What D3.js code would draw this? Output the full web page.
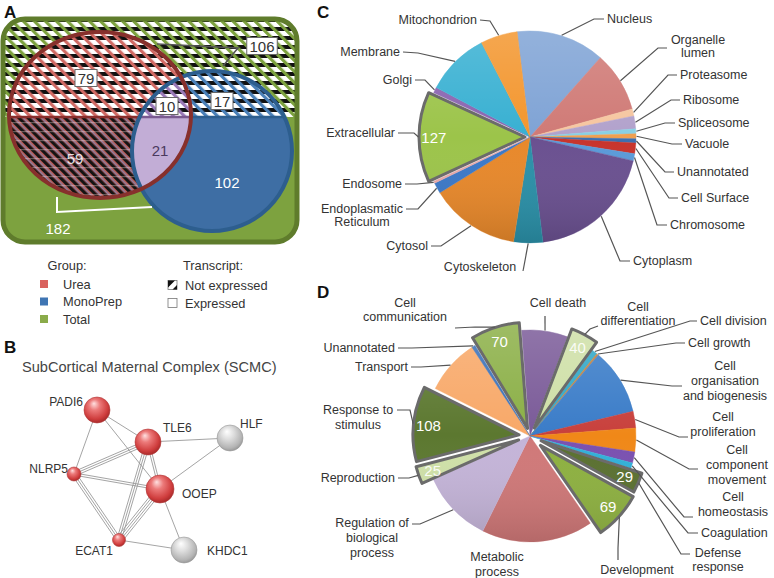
<!DOCTYPE html>
<html><head><meta charset="utf-8">
<script src="https://cdn.jsdelivr.net/npm/d3@7"></script>
<style>body{margin:0;background:#fff;} svg{display:block;font-family:"Liberation Sans",Arial,Helvetica,sans-serif;}</style>
</head><body>
<svg id="c" width="774" height="578"></svg>
<script>
// ---------------- DATA ----------------
const groupNames = ["Urea", "MonoPrep", "Total"];
const transcriptStates = ["Not expressed", "Expressed"];
const vennRegions = ["urea_ne", "both_ne", "mono_ne", "total_ne", "urea_e", "both_e", "mono_e", "total_e"];
const vennCounts = [79, 10, 17, 106, 59, 21, 102, 182];

const networkTitle = "SubCortical Maternal Complex (SCMC)";
const proteins = ["PADI6", "TLE6", "HLF", "NLRP5", "OOEP", "ECAT1", "KHDC1"];
const proteinInComplex = [true, true, false, true, true, true, false];
const linkSource = ["PADI6", "PADI6", "PADI6", "TLE6", "TLE6", "TLE6", "TLE6", "NLRP5", "NLRP5", "OOEP", "HLF", "OOEP", "ECAT1"];
const linkTarget = ["TLE6", "NLRP5", "OOEP", "HLF", "NLRP5", "OOEP", "ECAT1", "OOEP", "ECAT1", "ECAT1", "OOEP", "KHDC1", "KHDC1"];
const linkEvidence = [1, 1, 1, 1, 3, 2, 3, 2, 3, 4, 1, 1, 1];

const compartments = ["Nucleus", "Organelle lumen", "Proteasome", "Ribosome", "Spliceosome", "Vacuole", "Unannotated", "Cell Surface", "Chromosome", "Cytoplasm", "Cytoskeleton", "Cytosol", "Endoplasmatic Reticulum", "Endosome", "Extracellular", "Golgi", "Membrane", "Mitochondrion"];
const compartmentCounts = [125, 85, 10, 18, 7, 7, 6, 15, 10, 180, 41, 127, 15, 3, 127, 8, 90, 52];
const compartmentHighlight = ["Extracellular"];

const processes = ["Cell death", "Cell differentiation", "Cell division", "Cell growth", "Cell organisation and biogenesis", "Cell proliferation", "Cell component movement", "Cell homeostasis", "Coagulation", "Defense response", "Development", "Metabolic process", "Regulation of biological process", "Reproduction", "Response to stimulus", "Transport", "Unannotated", "Cell communication"];
const processCounts = [66, 40, 8, 3, 95, 24, 34, 16, 8, 29, 69, 160, 103, 25, 108, 79, 5, 70];
const processHighlight = ["Cell differentiation", "Defense response", "Development", "Reproduction", "Response to stimulus", "Cell communication"];

// ---------------- STYLE / LAYOUT ----------------
const compartmentColors = ["#7fa3d5", "#d07a76", "#f6c6a0", "#b2a2cc", "#88d0e4", "#f0a050", "#3c6fb0", "#c8342c", "#5a9ad8", "#6a5090", "#2a90a8", "#e8882a", "#3a78c8", "#e8a8a8", "#9cc44a", "#8a64b0", "#38b0d2", "#f3962e"];
const processColors = ["#7a5a98", "#cfe0a8", "#30a8c8", "#c08040", "#3a7cc8", "#c8403c", "#f08818", "#7a50b0", "#30b0d8", "#5a7030", "#8db040", "#d07878", "#c4b4d8", "#cfe0a8", "#5c7830", "#f8a868", "#3a70b8", "#8cb048"];

const cLayout = {
  "Nucleus": {a: "start", x: 607, y: [23], lead: [[604, 19], [594, 19]]},
  "Organelle lumen": {a: "middle", x: 698, y: [44, 57], lines: ["Organelle", "lumen"], lead: [[667, 48], [658, 48]]},
  "Proteasome": {a: "start", x: 680, y: [79], lead: [[677, 75], [668, 75]]},
  "Ribosome": {a: "start", x: 683, y: [104], lead: [[680, 100], [671, 100]]},
  "Spliceosome": {a: "start", x: 678, y: [127], lead: [[675, 123], [665, 123]]},
  "Vacuole": {a: "start", x: 685, y: [148], lead: [[682, 144], [672, 144]]},
  "Unannotated": {a: "start", x: 677, y: [176], lead: [[674, 172], [665, 172]]},
  "Cell Surface": {a: "start", x: 681, y: [202], lead: [[678, 198], [669, 198]]},
  "Chromosome": {a: "start", x: 670, y: [229], lead: [[667, 225], [657, 225]]},
  "Cytoplasm": {a: "start", x: 633, y: [265], lead: [[630, 261], [620, 261]]},
  "Cytoskeleton": {a: "middle", x: 480, y: [271], lead: [[523, 271]]},
  "Cytosol": {a: "end", x: 428, y: [250], lead: [[431, 246], [441, 246]]},
  "Endoplasmatic Reticulum": {a: "middle", x: 362, y: [213, 226], lines: ["Endoplasmatic", "Reticulum"], lead: [[406, 209], [418, 209]]},
  "Endosome": {a: "end", x: 402, y: [188], lead: [[405, 184], [417, 184]]},
  "Extracellular": {a: "end", x: 395, y: [137], lead: [[398, 133], [414, 133]]},
  "Golgi": {a: "end", x: 412, y: [84], lead: [[415, 80], [425, 80]]},
  "Membrane": {a: "end", x: 400, y: [56], lead: [[403, 52], [418, 53]]},
  "Mitochondrion": {a: "end", x: 477, y: [24], lead: [[480, 20], [490, 21]]}
};
const dLayout = {
  "Cell death": {a: "middle", x: 558, y: [307], lead: [[545, 316]]},
  "Cell differentiation": {a: "middle", x: 638, y: [311, 325], lines: ["Cell", "differentiation"], lead: [[598, 326], [590, 329]]},
  "Cell division": {a: "start", x: 700, y: [325], lead: [[697, 321], [690, 321]]},
  "Cell growth": {a: "start", x: 688, y: [347], lead: [[685, 343], [676, 343]]},
  "Cell organisation and biogenesis": {a: "middle", x: 725, y: [370, 385, 400], lines: ["Cell", "organisation", "and biogenesis"], lead: [[682, 386], [672, 386]]},
  "Cell proliferation": {a: "middle", x: 723, y: [421, 436], lines: ["Cell", "proliferation"], lead: [[688, 437], [679, 437]]},
  "Cell component movement": {a: "middle", x: 737, y: [454, 469, 484], lines: ["Cell", "component", "movement"], lead: [[698, 469], [689, 469]]},
  "Cell homeostasis": {a: "middle", x: 733, y: [501, 516], lines: ["Cell", "homeostasis"], lead: [[693, 517], [684, 517]]},
  "Coagulation": {a: "start", x: 701, y: [537], lead: [[698, 533], [688, 533]]},
  "Defense response": {a: "middle", x: 718, y: [557, 571], lines: ["Defense", "response"], lead: [[690, 554], [681, 554]]},
  "Development": {a: "middle", x: 637, y: [574], lead: [[618, 560], [618, 548]]},
  "Metabolic process": {a: "middle", x: 497, y: [561, 576], lines: ["Metabolic", "process"], lead: null},
  "Regulation of biological process": {a: "middle", x: 372, y: [527, 542, 557], lines: ["Regulation of", "biological", "process"], lead: [[412, 524], [420, 524]]},
  "Reproduction": {a: "end", x: 395, y: [482], lead: [[398, 478], [409, 478]]},
  "Response to stimulus": {a: "middle", x: 358, y: [414, 429], lines: ["Response to", "stimulus"], lead: [[397, 410], [410, 410]]},
  "Transport": {a: "end", x: 408, y: [371], lead: [[411, 367], [421, 367]]},
  "Unannotated": {a: "end", x: 395, y: [352], lead: [[398, 348], [412, 348]]},
  "Cell communication": {a: "middle", x: 405, y: [307, 321], lines: ["Cell", "communication"], lead: [[455, 328], [475, 327]]}
};
const cExplode = {"Extracellular": 5};
const dExplode = {"Cell communication": 8, "Cell differentiation": 9, "Defense response": 12, "Development": 14, "Reproduction": 12, "Response to stimulus": 11};

const svg = d3.select("#c");
const defs = svg.append("defs");

// ---------------- PANEL LETTERS ----------------
[["A", 4, 18], ["B", 4, 353], ["C", 317, 18], ["D", 317, 298]].forEach(([t, x, y]) => {
  svg.append("text").attr("x", x).attr("y", y).text(t)
    .attr("font-size", 17).attr("font-weight", "bold").attr("fill", "#111");
});

// ---------------- PANEL A : VENN ----------------
function stripes(id, color, w, period) {
  const p = defs.append("pattern").attr("id", id).attr("patternUnits", "userSpaceOnUse")
    .attr("width", period).attr("height", period).attr("patternTransform", "rotate(-45)");
  p.append("rect").attr("width", w).attr("height", period).attr("fill", color);
}
const bands = defs.append("pattern").attr("id", "bands").attr("patternUnits", "userSpaceOnUse")
  .attr("width", 10).attr("height", 9);
bands.append("rect").attr("width", 10).attr("height", 4).attr("fill", "#111");
stripes("stG", "#7da23f", 3.2, 7.8);
stripes("stR", "#d06a64", 3.2, 7.8);
stripes("stB", "#4a80b8", 3.2, 7.8);
stripes("stP", "#9a7ab8", 3.2, 7.8);
// dense pattern for the 59 region
const p59 = defs.append("pattern").attr("id", "p59").attr("patternUnits", "userSpaceOnUse")
  .attr("width", 6.5).attr("height", 6.5).attr("patternTransform", "rotate(-45)");
p59.append("rect").attr("width", 6.5).attr("height", 6.5).attr("fill", "#b8574f");
p59.append("rect").attr("width", 3.2).attr("height", 6.5).attr("fill", "#141414");
p59.append("rect").attr("x", 4).attr("width", 1).attr("height", 6.5).attr("fill", "#7f8fc4");
const bandsSoft = defs.append("pattern").attr("id", "bandsSoft").attr("patternUnits", "userSpaceOnUse")
  .attr("width", 10).attr("height", 9);
bandsSoft.append("rect").attr("y", 5).attr("width", 10).attr("height", 1.2).attr("fill", "rgba(255,220,220,0.35)");

const splitY = 117;
const RR = {x: 3, y: 19, w: 294, h: 223, r: 22};
const RED = {cx: 100, cy: 115, rx: 91, ry: 83};
const BLUE = {cx: 212, cy: 151, r: 80};

function clip(id, fn) { const c = defs.append("clipPath").attr("id", id); fn(c); }
clip("cRR", c => c.append("rect").attr("x", RR.x).attr("y", RR.y).attr("width", RR.w).attr("height", RR.h).attr("rx", RR.r));
clip("cTop", c => c.append("rect").attr("x", 0).attr("y", 0).attr("width", 310).attr("height", splitY));
clip("cBot", c => c.append("rect").attr("x", 0).attr("y", splitY).attr("width", 310).attr("height", 200));
clip("cRed", c => c.append("ellipse").attr("cx", RED.cx).attr("cy", RED.cy).attr("rx", RED.rx).attr("ry", RED.ry));
clip("cBlue", c => c.append("circle").attr("cx", BLUE.cx).attr("cy", BLUE.cy).attr("r", BLUE.r));

function full(g, fill) {
  return g.append("rect").attr("x", 0).attr("y", 0).attr("width", 310).attr("height", 270).attr("fill", fill);
}
function hatch(g, stripeId) {
  full(g, "#fff"); full(g, "url(#bands)"); full(g, `url(#${stripeId})`);
}
const venn = svg.append("g");
const gRR = venn.append("g").attr("clip-path", "url(#cRR)");
full(gRR, "#7da23f");
hatch(gRR.append("g").attr("clip-path", "url(#cTop)"), "stG");

const gRed = gRR.append("g").attr("clip-path", "url(#cRed)");
hatch(gRed.append("g").attr("clip-path", "url(#cTop)"), "stR");
const redBot = gRed.append("g").attr("clip-path", "url(#cBot)");
full(redBot, "url(#p59)"); full(redBot, "url(#bandsSoft)");

const gBlue = gRR.append("g").attr("clip-path", "url(#cBlue)");
hatch(gBlue.append("g").attr("clip-path", "url(#cTop)"), "stB");
full(gBlue.append("g").attr("clip-path", "url(#cBot)"), "#3e6ea4");

const gInt = gRR.append("g").attr("clip-path", "url(#cRed)").append("g").attr("clip-path", "url(#cBlue)");
hatch(gInt.append("g").attr("clip-path", "url(#cTop)"), "stP");
full(gInt.append("g").attr("clip-path", "url(#cBot)"), "#c2add6");

// split lines
gRed.append("line").attr("x1", 0).attr("x2", 310).attr("y1", splitY).attr("y2", splitY).attr("stroke", "#8a2e2c").attr("stroke-width", 2.5);
gBlue.append("line").attr("x1", 0).attr("x2", 310).attr("y1", splitY).attr("y2", splitY).attr("stroke", "#2d5e8e").attr("stroke-width", 2.5);
gInt.append("line").attr("x1", 0).attr("x2", 310).attr("y1", splitY).attr("y2", splitY).attr("stroke", "#7a5a90").attr("stroke-width", 2.5);

// outlines
venn.append("circle").attr("cx", BLUE.cx).attr("cy", BLUE.cy).attr("r", BLUE.r)
  .attr("fill", "none").attr("stroke", "#2d5e8e").attr("stroke-width", 4);
venn.append("ellipse").attr("cx", RED.cx).attr("cy", RED.cy).attr("rx", RED.rx).attr("ry", RED.ry)
  .attr("fill", "none").attr("stroke", "#87302c").attr("stroke-width", 4);
venn.append("rect").attr("x", RR.x).attr("y", RR.y).attr("width", RR.w).attr("height", RR.h).attr("rx", RR.r)
  .attr("fill", "none").attr("stroke", "#5f7c2c").attr("stroke-width", 5);

// leader to 106 and bracket to 182
venn.append("polyline").attr("points", "157,44 238,48 223,66").attr("fill", "none").attr("stroke", "#555").attr("stroke-width", 1.6);
venn.append("polyline").attr("points", "57,197 57,212 152,207").attr("fill", "none").attr("stroke", "#fff").attr("stroke-width", 2);

// Venn labels
const vennLabelPos = {
  urea_ne: {x: 86, y: 78, box: true}, both_ne: {x: 167, y: 106, box: true},
  mono_ne: {x: 222, y: 101, box: true}, total_ne: {x: 262, y: 46, box: true},
  urea_e: {x: 75, y: 158, fill: "rgba(255,255,255,0.85)"}, both_e: {x: 160, y: 150, fill: "#4a3a5e"},
  mono_e: {x: 227, y: 182, fill: "#fff"}, total_e: {x: 58, y: 228, fill: "#fff"}
};
vennRegions.forEach((reg, i) => {
  const p = vennLabelPos[reg];
  const txt = String(vennCounts[i]);
  if (p.box) {
    const w = txt.length * 8.5 + 5;
    venn.append("rect").attr("x", p.x - w / 2).attr("y", p.y - 8.5).attr("width", w).attr("height", 17)
      .attr("fill", "#fff").attr("stroke", "#666").attr("stroke-width", 1);
  }
  venn.append("text").attr("x", p.x).attr("y", p.y + 5.5).attr("text-anchor", "middle")
    .attr("font-size", 15).attr("fill", p.box ? "#333" : p.fill).text(txt);
});

// Legend
const legend = svg.append("g").attr("font-size", 12.8).attr("fill", "#333");
legend.append("text").attr("x", 67).attr("y", 270).attr("text-anchor", "middle").text("Group:");
legend.append("text").attr("x", 213).attr("y", 270).attr("text-anchor", "middle").text("Transcript:");
const legendColors = ["#d9625e", "#3f75b3", "#8aab4a"];
groupNames.forEach((g, i) => {
  const y = 284 + i * 17.5;
  legend.append("rect").attr("x", 40).attr("y", y - 4).attr("width", 8).attr("height", 8).attr("fill", legendColors[i]);
  legend.append("text").attr("x", 63).attr("y", y + 4.5).text(g);
});
transcriptStates.forEach((t, i) => {
  const y = 285 + i * 18;
  const x = 168;
  legend.append("rect").attr("x", x).attr("y", y - 4.5).attr("width", 9).attr("height", 9).attr("fill", "#fff").attr("stroke", "#777").attr("stroke-width", 0.8);
  if (i === 0) {
    legend.append("path").attr("d", `M${x},${y - 4.5}h7l-7,7z M${x + 9},${y}v4.5h-4.5z`).attr("fill", "#111");
  }
  legend.append("text").attr("x", 185).attr("y", y + 4.5).text(t);
});

// ---------------- PANEL B : NETWORK ----------------
const netPos = {
  PADI6: {x: 97, y: 410, r: 13, lx: 83, ly: 406, a: "end"},
  TLE6: {x: 148, y: 442, r: 13, lx: 163, ly: 432, a: "start"},
  HLF: {x: 230, y: 438, r: 13, lx: 240, ly: 428, a: "start"},
  NLRP5: {x: 74, y: 474, r: 7, lx: 68, ly: 473, a: "end"},
  OOEP: {x: 160, y: 489, r: 14, lx: 182, ly: 498, a: "start"},
  ECAT1: {x: 119, y: 540, r: 6.5, lx: 113, ly: 555, a: "end"},
  KHDC1: {x: 184, y: 550, r: 13, lx: 207, ly: 555, a: "start"}
};
svg.append("text").attr("x", 22).attr("y", 372).attr("font-size", 14.6).attr("fill", "#444").text(networkTitle);

const rg = defs.append("radialGradient").attr("id", "sphRed").attr("cx", "45%").attr("cy", "40%").attr("r", "60%").attr("fx", "38%").attr("fy", "25%");
rg.append("stop").attr("offset", "0%").attr("stop-color", "#ffe0e0");
rg.append("stop").attr("offset", "35%").attr("stop-color", "#ec7a7a");
rg.append("stop").attr("offset", "80%").attr("stop-color", "#cf3d3d");
rg.append("stop").attr("offset", "100%").attr("stop-color", "#a82a2a");
const gg = defs.append("radialGradient").attr("id", "sphGray").attr("cx", "45%").attr("cy", "40%").attr("r", "60%").attr("fx", "38%").attr("fy", "25%");
gg.append("stop").attr("offset", "0%").attr("stop-color", "#ffffff");
gg.append("stop").attr("offset", "40%").attr("stop-color", "#dedede");
gg.append("stop").attr("offset", "85%").attr("stop-color", "#b4b4b4");
gg.append("stop").attr("offset", "100%").attr("stop-color", "#9a9a9a");

const net = svg.append("g");
linkSource.forEach((s, i) => {
  const a = netPos[s], b = netPos[linkTarget[i]], n = linkEvidence[i];
  const dx = b.x - a.x, dy = b.y - a.y, L = Math.hypot(dx, dy);
  const nx = -dy / L, ny = dx / L;
  for (let k = 0; k < n; k++) {
    const o = (k - (n - 1) / 2) * 2.2;
    net.append("line").attr("x1", a.x + nx * o).attr("y1", a.y + ny * o)
      .attr("x2", b.x + nx * o).attr("y2", b.y + ny * o)
      .attr("stroke", "#9a9a9a").attr("stroke-width", 0.9);
  }
});
proteins.forEach((p, i) => {
  const q = netPos[p];
  net.append("circle").attr("cx", q.x).attr("cy", q.y).attr("r", q.r)
    .attr("fill", proteinInComplex[i] ? "url(#sphRed)" : "url(#sphGray)")
    .attr("stroke", proteinInComplex[i] ? "#b23a3a" : "#999").attr("stroke-width", 0.6);
  net.append("text").attr("x", q.lx).attr("y", q.ly).attr("text-anchor", q.a)
    .attr("font-size", 12).attr("fill", "#333").text(p);
});

// ---------------- PIE PANELS ----------------
function drawPie(opts) {
  const {cats, vals, colors, startDeg, cx, cy, r, explode, layout, highlight, gid} = opts;
  const sh = defs.append("linearGradient").attr("id", gid).attr("gradientUnits", "userSpaceOnUse")
    .attr("x1", 0).attr("y1", -r).attr("x2", 0).attr("y2", r);
  sh.append("stop").attr("offset", "0%").attr("stop-color", "#fff").attr("stop-opacity", 0.16);
  sh.append("stop").attr("offset", "50%").attr("stop-color", "#fff").attr("stop-opacity", 0);
  sh.append("stop").attr("offset", "100%").attr("stop-color", "#000").attr("stop-opacity", 0.13);

  const s0 = startDeg * Math.PI / 180;
  const pie = d3.pie().sort(null).value(d => d.v).startAngle(s0).endAngle(s0 + 2 * Math.PI);
  const data = pie(cats.map((c, i) => ({c, v: vals[i], col: colors[i]})));
  const arc = d3.arc().innerRadius(0).outerRadius(r);
  const g = svg.append("g").attr("transform", `translate(${cx},${cy})`);
  const off = d => explode[d.data.c] || 0;
  const mid = d => (d.startAngle + d.endAngle) / 2;
  const shift = d => [Math.sin(mid(d)) * off(d), -Math.cos(mid(d)) * off(d)];

  const ordered = data.filter(d => !off(d)).concat(data.filter(d => off(d)));
  ordered.forEach(d => {
    const [ox, oy] = shift(d);
    const sg = g.append("g").attr("transform", `translate(${ox},${oy})`);
    sg.append("path").attr("d", arc(d)).attr("fill", d.data.col).attr("stroke", d.data.col).attr("stroke-width", 0.4);
    sg.append("path").attr("d", arc(d)).attr("fill", `url(#${gid})`);
    if (off(d)) {
      sg.append("path").attr("d", arc(d)).attr("fill", "none").attr("stroke", "#6b6b6b")
        .attr("stroke-width", 3).attr("stroke-linejoin", "round");
    }
    if (highlight.includes(d.data.c)) {
      const rr = r * 0.86;
      sg.append("text").attr("x", Math.sin(mid(d)) * rr).attr("y", -Math.cos(mid(d)) * rr + 5.5)
        .attr("text-anchor", "middle").attr("font-size", 15).attr("fill", "#fff")
        .attr("fill-opacity", d.data.col === "#cfe0a8" ? 0.9 : 1).text(d.data.v);
    }
  });

  data.forEach(d => {
    const L = layout[d.data.c];
    if (!L) return;
    const lines = L.lines || [d.data.c];
    lines.forEach((t, k) => {
      svg.append("text").attr("x", L.x).attr("y", L.y[k]).attr("text-anchor", L.a)
        .attr("font-size", 12.5).attr("fill", "#333").text(t);
    });
    if (L.lead) {
      const [ox, oy] = shift(d);
      const end = [cx + ox + Math.sin(mid(d)) * (r + 0.5), cy + oy - Math.cos(mid(d)) * (r + 0.5)];
      const pts = L.lead.concat([end]);
      svg.append("polyline").attr("points", pts.map(p => p.join(",")).join(" "))
        .attr("fill", "none").attr("stroke", "#555").attr("stroke-width", 1.2);
    }
  });
}

drawPie({cats: compartments, vals: compartmentCounts, colors: compartmentColors, startDeg: -7,
  cx: 530, cy: 137, r: 106, explode: cExplode, layout: cLayout, highlight: compartmentHighlight, gid: "shC"});
drawPie({cats: processes, vals: processCounts, colors: processColors, startDeg: -4.5,
  cx: 530, cy: 436, r: 106, explode: dExplode, layout: dLayout, highlight: processHighlight, gid: "shD"});
</script>
</body></html>
